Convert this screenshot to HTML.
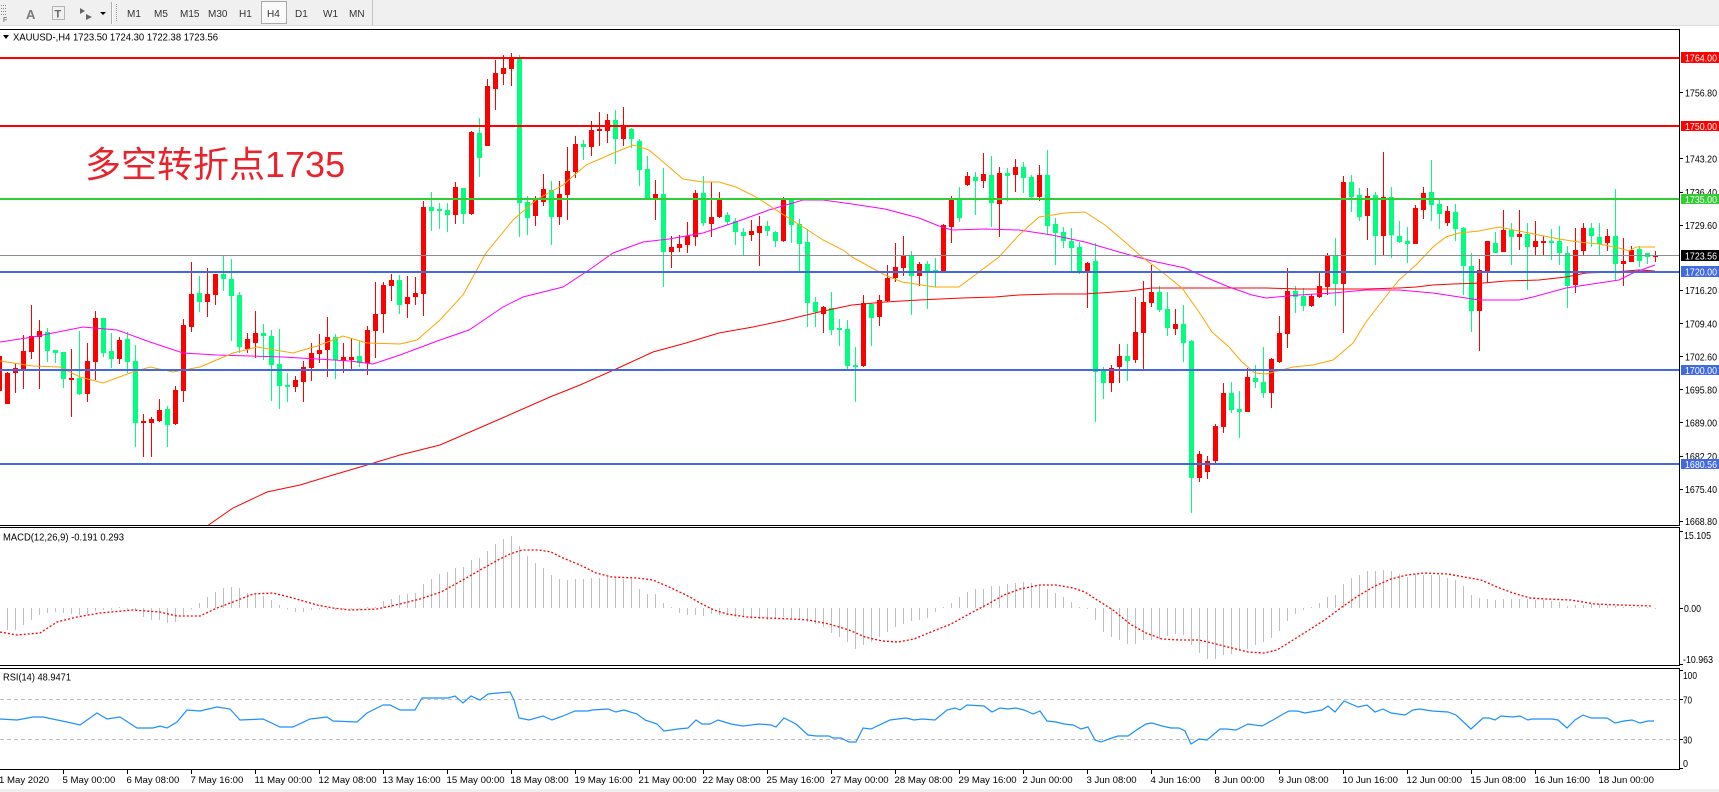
<!DOCTYPE html>
<html><head><meta charset="utf-8"><style>
html,body{margin:0;padding:0;background:#fff;overflow:hidden}
svg{display:block}
text{font-family:"Liberation Sans","Noto Sans CJK SC",sans-serif}
</style></head><body>
<svg width="1719" height="792" viewBox="0 0 1719 792" xmlns="http://www.w3.org/2000/svg">
<defs>
<clipPath id="cm"><rect x="0" y="30" width="1679" height="495"/></clipPath>
<clipPath id="cd"><rect x="0" y="528" width="1679" height="137"/></clipPath>
<clipPath id="cr"><rect x="0" y="669" width="1679" height="100"/></clipPath>
</defs>
<rect width="1719" height="792" fill="#fff"/>
<!-- toolbar -->
<rect x="0" y="0" width="1719" height="25" fill="#f0f0f0"/>
<line x1="0" y1="25.5" x2="1719" y2="25.5" stroke="#dcdcdc"/>
<g fill="#8a8a8a">
<rect x="1" y="5" width="1" height="1"/><rect x="3" y="5" width="1" height="1"/><rect x="5" y="5" width="1" height="1"/>
<rect x="1" y="8" width="1" height="1"/><rect x="3" y="8" width="1" height="1"/><rect x="5" y="8" width="1" height="1"/>
<rect x="1" y="11" width="1" height="1"/><rect x="3" y="11" width="1" height="1"/><rect x="5" y="11" width="1" height="1"/>
<rect x="1" y="14" width="1" height="1"/><rect x="3" y="14" width="1" height="1"/><rect x="5" y="14" width="1" height="1"/>
</g>
<text x="3" y="22" font-size="7" fill="#555">F</text>
<text x="26" y="19" font-size="13" font-weight="bold" fill="#7a7a7a">A</text>
<rect x="52.5" y="6.5" width="12" height="13" fill="none" stroke="#777" stroke-dasharray="1 1"/>
<text x="54.5" y="17.5" font-size="11" font-weight="bold" fill="#666">T</text>
<path d="M80 8l5 3-5 3zM86 14l6 3-6 3z" fill="#666"/>
<path d="M100 12h6l-3 3z" fill="#000"/>
<line x1="111.5" y1="2" x2="111.5" y2="24" stroke="#b0b0b0"/>
<line x1="112.5" y1="2" x2="112.5" y2="24" stroke="#fff"/>
<g fill="#999"><rect x="116" y="4" width="1" height="1"/><rect x="116" y="6" width="1" height="1"/><rect x="116" y="8" width="1" height="1"/><rect x="116" y="10" width="1" height="1"/><rect x="116" y="12" width="1" height="1"/><rect x="116" y="14" width="1" height="1"/><rect x="116" y="16" width="1" height="1"/><rect x="116" y="18" width="1" height="1"/><rect x="116" y="20" width="1" height="1"/></g>
<rect x="261.5" y="1.5" width="25" height="22" fill="#fafafa" stroke="#a8a8a8"/>
<g font-size="10" fill="#333">
<text x="127" y="17">M1</text><text x="154" y="17">M5</text><text x="180" y="17">M15</text><text x="208" y="17">M30</text><text x="239" y="17">H1</text><text x="267" y="17">H4</text><text x="295" y="17">D1</text><text x="323" y="17">W1</text><text x="349" y="17">MN</text>
</g>
<line x1="372.5" y1="0" x2="372.5" y2="25" stroke="#c4c4c4"/>
<rect x="0" y="789" width="1719" height="3" fill="#f0f0f0"/>

<!-- main panel content -->
<g clip-path="url(#cm)">
<g shape-rendering="crispEdges">
<path stroke="#ff0000" stroke-width="1" fill="none" d="M-0.5 356V391M7.5 372V404M15.5 363V393M23.5 335V389M31.5 305V359M39.5 320V389M71.5 349V417M87.5 343V402M95.5 311V380M119.5 337V364M143.5 414V457M151.5 417V457M159.5 399V422M175.5 386V425M183.5 319V402M191.5 262V332M207.5 268V317M215.5 274V305M247.5 333V353M255.5 311V358M295.5 376V392M303.5 361V402M311.5 343V381M319.5 334V363M327.5 317V377M343.5 343V373M351.5 338V369M367.5 326V375M375.5 282V358M383.5 282V333M391.5 274V301M407.5 276V318M415.5 277V305M423.5 201V316M455.5 182V224M471.5 131V215M487.5 79V146M495.5 60V110M503.5 55V85M511.5 53V86M535.5 196V226M543.5 174V206M559.5 181V225M567.5 147V220M575.5 136V178M591.5 121V156M599.5 112V146M607.5 114V143M623.5 107V146M655.5 180V220M671.5 236V268M679.5 235V252M687.5 222V253M695.5 190V246M711.5 182V237M719.5 192V218M751.5 220V241M759.5 216V266M783.5 197V242M823.5 306V333M863.5 295V367M879.5 295V326M887.5 265V302M895.5 243V282M903.5 236V276M919.5 262V286M943.5 224V273M951.5 196V243M967.5 172V186M983.5 153V188M999.5 167V237M1015.5 159V192M1039.5 165V201M1087.5 262V308M1111.5 365V392M1119.5 344V383M1135.5 297V363M1143.5 281V369M1151.5 265V307M1175.5 309V335M1199.5 451V482M1207.5 456V479M1215.5 424V463M1223.5 383V433M1247.5 368V412M1271.5 358V408M1279.5 316V363M1287.5 268V348M1311.5 294V307M1319.5 273V298M1327.5 253V295M1343.5 176V333M1367.5 188V240M1383.5 152V255M1415.5 205V244M1423.5 187V219M1447.5 206V226M1479.5 259V351M1487.5 241V283M1503.5 210V252M1519.5 210V250M1535.5 221V256M1543.5 236V256M1575.5 228V293M1583.5 223V255M1607.5 229V251M1623.5 238V286M1631.5 246V262M1655.5 251V262"/>
<path stroke="#ff0000" stroke-width="5" fill="none" d="M-0.5 356V391M7.5 373V404M15.5 368V373M23.5 351V370M31.5 336V352M39.5 331V337M71.5 378V380M87.5 361V394M95.5 318V362M119.5 340V359M143.5 421V423M151.5 419V423M159.5 410V421M175.5 390V424M183.5 325V391M191.5 294V327M207.5 294V302M215.5 274V295M247.5 339V349M255.5 333V343M295.5 380V387M303.5 367V382M311.5 353V368M319.5 350V354M327.5 337V350M343.5 357V361M351.5 357V360M367.5 330V363M375.5 314V331M383.5 285V314M391.5 280V286M407.5 297V304M415.5 293V297M423.5 207V294M455.5 187V215M471.5 132V214M487.5 86V146M495.5 73V89M503.5 68V74M511.5 58V69M535.5 200V216M543.5 189V202M559.5 194V217M567.5 171V195M575.5 144V172M591.5 130V147M599.5 129V131M607.5 120V131M623.5 126V139M655.5 194V198M671.5 247V252M679.5 244V248M687.5 236V245M695.5 193V237M711.5 217V224M719.5 200V217M751.5 231V235M759.5 226V233M783.5 200V241M823.5 307V314M863.5 303V366M879.5 300V317M887.5 278V301M895.5 267V278M903.5 255V268M919.5 264V276M943.5 225V272M951.5 199V227M967.5 176V185M983.5 174V181M999.5 173V204M1015.5 167V175M1039.5 175V197M1087.5 263V271M1111.5 368V383M1119.5 356V367M1135.5 332V360M1143.5 302V333M1151.5 292V303M1175.5 324V329M1199.5 454V478M1207.5 461V472M1215.5 426V461M1223.5 393V427M1247.5 377V412M1271.5 359V393M1279.5 333V362M1287.5 291V334M1311.5 296V306M1319.5 286V297M1327.5 255V287M1343.5 182V284M1367.5 196V216M1383.5 197V236M1415.5 208V244M1423.5 193V210M1447.5 211V223M1479.5 270V311M1487.5 241V271M1503.5 230V252M1519.5 234V237M1535.5 241V247M1543.5 241V243M1575.5 250V285M1583.5 228V251M1607.5 236V243M1623.5 261V264M1631.5 250V262M1655.5 255V257"/>
<path stroke="#00ff7f" stroke-width="1" fill="none" d="M47.5 328V362M55.5 350V363M63.5 352V388M79.5 331V395M103.5 318V357M111.5 333V368M127.5 332V373M135.5 345V447M167.5 406V447M199.5 276V312M223.5 256V291M231.5 259V341M239.5 292V353M263.5 324V360M271.5 330V401M279.5 329V409M287.5 373V402M335.5 334V379M359.5 341V367M399.5 275V314M431.5 192V231M439.5 203V229M447.5 203V232M463.5 188V224M479.5 118V177M519.5 55V237M527.5 196V235M551.5 181V245M583.5 140V160M615.5 110V164M631.5 128V148M639.5 139V186M647.5 156V199M663.5 168V287M703.5 176V226M727.5 212V225M735.5 218V245M743.5 228V255M767.5 221V236M775.5 231V247M791.5 198V243M799.5 219V271M807.5 229V327M815.5 297V327M831.5 292V335M839.5 319V346M847.5 320V369M855.5 347V402M871.5 303V346M911.5 251V315M927.5 261V309M935.5 258V287M959.5 187V222M975.5 172V215M991.5 156V227M1007.5 168V201M1023.5 162V193M1031.5 175V200M1047.5 150V235M1055.5 218V265M1063.5 227V248M1071.5 228V271M1079.5 242V274M1095.5 243V422M1103.5 367V399M1127.5 344V381M1159.5 286V312M1167.5 292V336M1183.5 305V362M1191.5 340V513M1231.5 382V413M1239.5 391V438M1255.5 365V388M1263.5 347V398M1295.5 286V313M1303.5 288V311M1335.5 238V306M1351.5 175V212M1359.5 188V221M1375.5 192V265M1391.5 187V258M1399.5 221V243M1407.5 227V263M1431.5 160V221M1439.5 200V229M1455.5 204V241M1463.5 227V295M1471.5 253V332M1495.5 232V253M1511.5 223V265M1527.5 223V290M1551.5 229V260M1559.5 226V265M1567.5 246V308M1591.5 223V247M1599.5 223V255M1615.5 189V280M1639.5 246V267M1647.5 253V264"/>
<path stroke="#00ff7f" stroke-width="5" fill="none" d="M47.5 332V351M55.5 350V353M63.5 352V379M79.5 378V394M103.5 318V353M111.5 351V359M127.5 339V362M135.5 361V423M167.5 409V425M199.5 293V302M223.5 274V279M231.5 279V296M239.5 295V347M263.5 333V336M271.5 336V365M279.5 364V386M287.5 385V387M335.5 337V360M359.5 356V363M399.5 280V305M431.5 207V211M439.5 209V211M447.5 210V215M463.5 188V214M479.5 133V158M519.5 58V203M527.5 202V218M551.5 190V217M583.5 144V147M615.5 120V139M631.5 129V139M639.5 141V170M647.5 169V199M663.5 194V252M703.5 193V223M727.5 215V222M735.5 221V232M743.5 232V236M767.5 226V231M775.5 232V241M791.5 200V225M799.5 224V244M807.5 242V303M815.5 302V312M831.5 308V330M839.5 328V330M847.5 329V366M855.5 365V367M871.5 304V318M911.5 255V276M927.5 264V271M935.5 270V272M959.5 199V218M975.5 177V181M991.5 175V203M1007.5 173V176M1023.5 167V178M1031.5 177V197M1047.5 175V226M1055.5 224V233M1063.5 232V241M1071.5 241V248M1079.5 247V272M1095.5 261V372M1103.5 371V383M1127.5 356V361M1159.5 292V310M1167.5 309V328M1183.5 324V343M1191.5 341V478M1231.5 393V410M1239.5 409V412M1255.5 378V382M1263.5 382V393M1295.5 291V297M1303.5 296V306M1335.5 255V284M1351.5 182V197M1359.5 195V217M1375.5 195V236M1391.5 197V235M1399.5 236V242M1407.5 241V244M1431.5 192V205M1439.5 204V214M1455.5 212V229M1463.5 228V266M1471.5 266V311M1495.5 243V253M1511.5 230V237M1527.5 234V247M1551.5 241V243M1559.5 241V253M1567.5 253V286M1591.5 228V236M1599.5 237V244M1615.5 236V264M1639.5 249V261M1647.5 253V257"/>
</g>
<polyline fill="none" stroke="#ff0000" stroke-width="1" points="200,532 210,524 233,508 267,492 300,485 333,475 367,465 400,455 440,445 500,419 550,397 580,385 616,369 653,352 686,343 719,333 753,327 786,320 819,312 852,305 885,302 919,300 962,298 995,297 1019,295 1052,294 1085,294 1129,291 1152,288 1202,288 1229,288 1252,288 1266,288 1299,289 1333,289 1366,289 1399,288 1416,287 1433,285 1453,284 1483,283 1506,281 1539,280 1566,277 1586,273 1613,272 1639,270 1655,271"/>
<polyline fill="none" stroke="#ff00ff" stroke-width="1" points="0,342 33,337 83,327 117,330 150,342 183,353 217,355 250,356 283,357 317,359 350,361 373,364 400,355 440,340 469,330 503,307 523,297 563,287 589,270 613,253 643,242 669,239 703,233 736,222 769,210 803,200 823,200 852,204 885,209 919,218 939,226 952,230 985,229 1019,230 1052,235 1085,242 1119,252 1152,261 1185,268 1205,277 1229,287 1252,295 1266,298 1299,295 1333,293 1366,290 1399,290 1433,293 1466,298 1479,300 1519,300 1533,297 1566,288 1599,283 1619,280 1633,273 1655,265"/>
<polyline fill="none" stroke="#ffa500" stroke-width="1" points="0,361 33,366 60,367 80,377 103,383 133,372 150,367 173,372 200,367 233,353 257,347 293,353 317,346 343,336 367,343 400,344 417,340 440,320 463,295 486,253 513,220 536,200 563,185 586,165 616,152 633,145 649,150 669,167 683,179 703,182 719,182 736,187 756,197 776,210 803,227 823,240 843,250 852,257 872,268 885,275 902,282 935,287 959,287 979,272 999,257 1019,235 1039,217 1065,213 1085,212 1105,225 1125,242 1142,257 1162,272 1182,288 1199,312 1212,332 1229,347 1242,362 1255,373 1266,374 1293,367 1313,365 1333,360 1353,343 1366,322 1383,300 1399,280 1416,265 1433,247 1446,237 1459,233 1479,231 1499,227 1519,231 1539,235 1559,239 1579,242 1599,244 1619,248 1629,251 1636,247 1655,247"/>
<g shape-rendering="crispEdges">
<line x1="0" y1="58" x2="1679" y2="58" stroke="#ff0000" stroke-width="2"/>
<line x1="0" y1="126" x2="1679" y2="126" stroke="#ff0000" stroke-width="2"/>
<line x1="0" y1="199" x2="1679" y2="199" stroke="#32cd32" stroke-width="2"/>
<line x1="0" y1="255.5" x2="1679" y2="255.5" stroke="#8a8f96" stroke-width="1"/>
<line x1="0" y1="272" x2="1679" y2="272" stroke="#4169e1" stroke-width="2"/>
<line x1="0" y1="370" x2="1679" y2="370" stroke="#4169e1" stroke-width="2"/>
<line x1="0" y1="464" x2="1679" y2="464" stroke="#4169e1" stroke-width="2"/>
</g>
</g>
<text x="85" y="177" font-size="36" fill="#e8232b" font-family="'Liberation Sans','Noto Sans CJK SC',sans-serif">多空转折点1735</text>
<path d="M3 35h6l-3 4z" fill="#000"/>
<text x="13" y="40.5" font-size="10" fill="#000" textLength="205" lengthAdjust="spacingAndGlyphs">XAUUSD-,H4  1723.50 1724.30 1722.38 1723.56</text>

<!-- MACD -->
<g clip-path="url(#cd)">
<path shape-rendering="crispEdges" stroke="#c0c0c0" stroke-width="1" fill="none" d="M-0.5 608V632M7.5 608V630M15.5 608V630M23.5 608V625M31.5 608V620M39.5 608V615M47.5 608V613M55.5 608V612M63.5 608V613M71.5 608V614M79.5 608V615M87.5 608V614M95.5 608V611M103.5 608V610M111.5 608V610M119.5 608V607M127.5 608V609.5M135.5 608V611M143.5 608V617M151.5 608V620M159.5 608V620M167.5 608V623M175.5 608V622M183.5 608V615M191.5 608V609.5M199.5 608V603M207.5 608V597M215.5 608V592M223.5 608V588M231.5 608V587M239.5 608V588M247.5 608V593M255.5 608V595M263.5 608V596M271.5 608V600M279.5 608V605M287.5 608V609.5M295.5 608V612M303.5 608V612M311.5 608V610M319.5 608V609.5M327.5 608V609.5M335.5 608V610M343.5 608V609.5M351.5 608V609.5M359.5 608V609.5M367.5 608V607M375.5 608V607M383.5 608V601M391.5 608V599M399.5 608V595M407.5 608V594M415.5 608V593M423.5 608V584M431.5 608V579M439.5 608V574M447.5 608V572M455.5 608V568M463.5 608V567M471.5 608V560M479.5 608V558M487.5 608V551M495.5 608V544M503.5 608V539M511.5 608V536M519.5 608V546M527.5 608V556M535.5 608V563M543.5 608V568M551.5 608V575M559.5 608V579M567.5 608V580M575.5 608V579M583.5 608V579M591.5 608V578M599.5 608V578M607.5 608V577M615.5 608V578M623.5 608V579M631.5 608V579M639.5 608V589M647.5 608V594M655.5 608V594M663.5 608V603M671.5 608V607M679.5 608V613M687.5 608V615M695.5 608V615M703.5 608V616M711.5 608V614M719.5 608V615M727.5 608V615M735.5 608V617M743.5 608V617M751.5 608V619M759.5 608V619M767.5 608V620M775.5 608V619M783.5 608V617M791.5 608V618M799.5 608V620M807.5 608V622M815.5 608V624M823.5 608V627M831.5 608V633M839.5 608V637M847.5 608V642M855.5 608V649M863.5 608V645M871.5 608V642M879.5 608V637M887.5 608V632M895.5 608V627M903.5 608V624M911.5 608V621M919.5 608V620M927.5 608V618M935.5 608V612M943.5 608V607M951.5 608V603M959.5 608V597M967.5 608V592M975.5 608V589M983.5 608V589M991.5 608V586M999.5 608V586M1007.5 608V584M1015.5 608V583M1023.5 608V582M1031.5 608V583M1039.5 608V586M1047.5 608V589M1055.5 608V593M1063.5 608V597M1071.5 608V602M1079.5 608V607M1087.5 608V609M1095.5 608V620M1103.5 608V632M1111.5 608V637M1119.5 608V640M1127.5 608V644M1135.5 608V644M1143.5 608V640M1151.5 608V640M1159.5 608V639M1167.5 608V636M1175.5 608V634M1183.5 608V635M1191.5 608V645M1199.5 608V653M1207.5 608V659M1215.5 608V659M1223.5 608V655M1231.5 608V654M1239.5 608V650M1247.5 608V649M1255.5 608V645M1263.5 608V642M1271.5 608V638M1279.5 608V631M1287.5 608V621M1295.5 608V614M1303.5 608V610M1311.5 608V607M1319.5 608V603M1327.5 608V597M1335.5 608V595M1343.5 608V584M1351.5 608V578M1359.5 608V575M1367.5 608V571M1375.5 608V571M1383.5 608V570M1391.5 608V571M1399.5 608V574M1407.5 608V577M1415.5 608V574M1423.5 608V575M1431.5 608V575M1439.5 608V575M1447.5 608V578M1455.5 608V580M1463.5 608V586M1471.5 608V595M1479.5 608V598M1487.5 608V599M1495.5 608V600M1503.5 608V599M1511.5 608V599M1519.5 608V599M1527.5 608V599M1535.5 608V600M1543.5 608V600M1551.5 608V601M1559.5 608V602M1567.5 608V606M1575.5 608V605M1583.5 608V605M1591.5 608V604M1599.5 608V604M1607.5 608V605M1615.5 608V606M1623.5 608V607M1631.5 608V607M1639.5 608V607M1647.5 608V607M1655.5 608V609"/>
<polyline fill="none" stroke="#ff0000" stroke-width="1.3" stroke-dasharray="2 2" points="0,632 17,635 40,633 57,622 77,617 100,613 133,610 160,612 177,616 200,616 217,608 233,602 253,594 273,593 293,598 317,605 333,608 350,610 377,609 400,604 420,599 441,592 461,581 482,569 498,560 510,554 522,550 539,550 551,552 563,558 580,565 596,573 612,577 637,578 653,580 669,587 686,595 702,604 714,610 727,614 747,617 767,618 792,619 808,620 829,624 849,630 865,637 882,641 898,642 914,639 931,632 951,624 971,613 988,604 1004,595 1020,589 1040,585 1056,585 1073,588 1085,592 1097,600 1113,610 1130,624 1146,633 1162,639 1179,640 1199,640 1216,644 1232,648 1248,652 1264,653 1277,650 1293,640 1309,630 1326,619 1342,607 1358,596 1375,586 1391,579 1407,575 1424,573 1448,574 1464,577 1481,580 1497,587 1513,593 1530,598 1546,599 1571,600 1595,604 1620,605 1652,606"/>
</g>
<text x="3" y="540.5" font-size="10" fill="#000" textLength="121" lengthAdjust="spacingAndGlyphs">MACD(12,26,9) -0.191 0.293</text>

<!-- RSI -->
<g clip-path="url(#cr)">
<line x1="0" y1="699.5" x2="1679" y2="699.5" stroke="#c0c0c0" stroke-dasharray="4 3"/>
<line x1="0" y1="739.5" x2="1679" y2="739.5" stroke="#c0c0c0" stroke-dasharray="4 3"/>
<polyline fill="none" stroke="#1e90ff" stroke-width="1.2" points="0,719 17,720 33,717 43,717 67,722 80,725 97,713 107,719 120,717 137,728 153,728 160,726 167,728 177,722 187,710 200,711 217,707 230,709 240,720 263,719 280,727 293,727 310,719 327,717 333,721 357,722 367,713 383,705 390,705 400,710 415,710 422,698 441,698 448,698 455,696 463,703 471,696 480,700 488,694 498,693 510,692 514,700 519,718 529,720 543,716 552,720 563,716 575,711 588,711 592,710 608,709 616,712 624,710 637,714 645,720 657,724 664,731 678,729 688,728 696,720 702,724 710,724 718,720 731,724 743,726 759,724 771,725 776,727 784,718 796,724 808,735 816,736 829,736 833,738 841,738 849,742 856,742 863,728 871,729 890,720 906,718 914,720 922,719 935,720 947,710 955,708 960,710 967,705 984,706 992,712 1000,708 1008,709 1016,708 1024,710 1033,714 1040,711 1047,721 1056,722 1064,724 1073,725 1081,729 1088,727 1095,740 1101,742 1109,739 1118,736 1128,736 1138,729 1146,724 1152,723 1162,726 1171,728 1179,728 1185,731 1191,744 1199,739 1207,740 1220,729 1226,729 1236,730 1248,724 1262,726 1273,720 1285,713 1289,711 1297,711 1305,713 1322,710 1328,706 1335,712 1344,701 1358,707 1367,705 1375,712 1383,709 1391,713 1405,715 1413,710 1420,709 1432,711 1448,712 1456,715 1471,729 1483,718 1489,718 1495,720 1501,716 1513,717 1520,716 1528,720 1532,719 1552,719 1558,720 1567,728 1575,720 1583,715 1591,718 1601,718 1607,718 1615,723 1624,721 1632,720 1640,723 1648,721 1654,721"/>
</g>
<text x="3" y="680.5" font-size="10" fill="#000" textLength="68" lengthAdjust="spacingAndGlyphs">RSI(14) 48.9471</text>

<!-- frames -->
<g shape-rendering="crispEdges" stroke="#000" stroke-width="1" fill="none">
<line x1="0" y1="29.5" x2="1680" y2="29.5"/>
<line x1="1679.5" y1="29" x2="1679.5" y2="526"/>
<line x1="0" y1="525.5" x2="1680" y2="525.5"/>
<line x1="0" y1="527.5" x2="1680" y2="527.5"/>
<line x1="1679.5" y1="527" x2="1679.5" y2="666"/>
<line x1="0" y1="665.5" x2="1680" y2="665.5"/>
<line x1="0" y1="668.5" x2="1680" y2="668.5"/>
<line x1="1679.5" y1="668" x2="1679.5" y2="770"/>
<line x1="0" y1="769.5" x2="1680" y2="769.5"/>
<path d="M1680 92.5h3M1680 158.5h3M1680 192.5h3M1680 225.5h3M1680 290.5h3M1680 323.5h3M1680 356.5h3M1680 389.5h3M1680 422.5h3M1680 456.5h3M1680 489.5h3M1680 521.5h3M1680 531.5h3M1680 608.5h3M1680 664.5h3M1680 670.5h3M1680 699.5h3M1680 739.5h3M1680 768.5h3"/>
<path d="M63.5 770v4M127.5 770v4M191.5 770v4M255.5 770v4M319.5 770v4M383.5 770v4M447.5 770v4M511.5 770v4M575.5 770v4M639.5 770v4M703.5 770v4M767.5 770v4M831.5 770v4M895.5 770v4M959.5 770v4M1023.5 770v4M1087.5 770v4M1151.5 770v4M1215.5 770v4M1279.5 770v4M1343.5 770v4M1407.5 770v4M1471.5 770v4M1535.5 770v4M1599.5 770v4"/>
</g>

<!-- price axis -->
<g font-size="10.5" fill="#000">
<text x="1685" y="96.3" textLength="32" lengthAdjust="spacingAndGlyphs">1756.80</text>
<text x="1685" y="162.6" textLength="32" lengthAdjust="spacingAndGlyphs">1743.20</text>
<text x="1685" y="195.8" textLength="32" lengthAdjust="spacingAndGlyphs">1736.40</text>
<text x="1685" y="228.9" textLength="32" lengthAdjust="spacingAndGlyphs">1729.60</text>
<text x="1685" y="294.2" textLength="32" lengthAdjust="spacingAndGlyphs">1716.20</text>
<text x="1685" y="327.3" textLength="32" lengthAdjust="spacingAndGlyphs">1709.40</text>
<text x="1685" y="360.4" textLength="32" lengthAdjust="spacingAndGlyphs">1702.60</text>
<text x="1685" y="393.6" textLength="32" lengthAdjust="spacingAndGlyphs">1695.80</text>
<text x="1685" y="426.7" textLength="32" lengthAdjust="spacingAndGlyphs">1689.00</text>
<text x="1685" y="459.8" textLength="32" lengthAdjust="spacingAndGlyphs">1682.20</text>
<text x="1685" y="493" textLength="32" lengthAdjust="spacingAndGlyphs">1675.40</text>
<text x="1685" y="525.2" textLength="32" lengthAdjust="spacingAndGlyphs">1668.80</text>
<text x="1684" y="538.8" textLength="27" lengthAdjust="spacingAndGlyphs">15.105</text>
<text x="1684" y="611.8" textLength="17" lengthAdjust="spacingAndGlyphs">0.00</text>
<text x="1683" y="663" textLength="30" lengthAdjust="spacingAndGlyphs">-10.963</text>
<text x="1683" y="678.8" textLength="14" lengthAdjust="spacingAndGlyphs">100</text>
<text x="1683" y="703.5" textLength="9" lengthAdjust="spacingAndGlyphs">70</text>
<text x="1683" y="743.5" textLength="9" lengthAdjust="spacingAndGlyphs">30</text>
<text x="1683" y="767" textLength="5" lengthAdjust="spacingAndGlyphs">0</text>
</g>
<g shape-rendering="crispEdges">
<rect x="1681" y="52" width="38" height="11" fill="#ff0000"/>
<rect x="1681" y="121" width="38" height="10" fill="#ff0000"/>
<rect x="1681" y="194" width="38" height="10" fill="#32cd32"/>
<rect x="1681" y="250" width="38" height="11" fill="#000"/>
<rect x="1681" y="266" width="38" height="11" fill="#4169e1"/>
<rect x="1681" y="365" width="38" height="10" fill="#4169e1"/>
<rect x="1681" y="459" width="38" height="10" fill="#4169e1"/>
</g>
<g font-size="10.5" fill="#fff">
<text x="1685" y="61.3" textLength="32" lengthAdjust="spacingAndGlyphs">1764.00</text>
<text x="1685" y="129.8" textLength="32" lengthAdjust="spacingAndGlyphs">1750.00</text>
<text x="1685" y="202.8" textLength="32" lengthAdjust="spacingAndGlyphs">1735.00</text>
<text x="1685" y="259.3" textLength="32" lengthAdjust="spacingAndGlyphs">1723.56</text>
<text x="1685" y="275.3" textLength="32" lengthAdjust="spacingAndGlyphs">1720.00</text>
<text x="1685" y="373.8" textLength="32" lengthAdjust="spacingAndGlyphs">1700.00</text>
<text x="1685" y="467.8" textLength="32" lengthAdjust="spacingAndGlyphs">1680.56</text>
</g>

<!-- time axis -->
<g font-size="9.6" fill="#000">
<text x="-1" y="783">1 May 2020</text>
<text x="62.5" y="783">5 May 00:00</text>
<text x="126.5" y="783">6 May 08:00</text>
<text x="190.5" y="783">7 May 16:00</text>
<text x="254.5" y="783">11 May 00:00</text>
<text x="318.5" y="783">12 May 08:00</text>
<text x="382.5" y="783">13 May 16:00</text>
<text x="446.5" y="783">15 May 00:00</text>
<text x="510.5" y="783">18 May 08:00</text>
<text x="574.5" y="783">19 May 16:00</text>
<text x="638.5" y="783">21 May 00:00</text>
<text x="702.5" y="783">22 May 08:00</text>
<text x="766.5" y="783">25 May 16:00</text>
<text x="830.5" y="783">27 May 00:00</text>
<text x="894.5" y="783">28 May 08:00</text>
<text x="958.5" y="783">29 May 16:00</text>
<text x="1022.5" y="783">2 Jun 00:00</text>
<text x="1086.5" y="783">3 Jun 08:00</text>
<text x="1150.5" y="783">4 Jun 16:00</text>
<text x="1214.5" y="783">8 Jun 00:00</text>
<text x="1278.5" y="783">9 Jun 08:00</text>
<text x="1342.5" y="783">10 Jun 16:00</text>
<text x="1406.5" y="783">12 Jun 00:00</text>
<text x="1470.5" y="783">15 Jun 08:00</text>
<text x="1534.5" y="783">16 Jun 16:00</text>
<text x="1598.5" y="783">18 Jun 00:00</text>
</g>
</svg>
</body></html>
